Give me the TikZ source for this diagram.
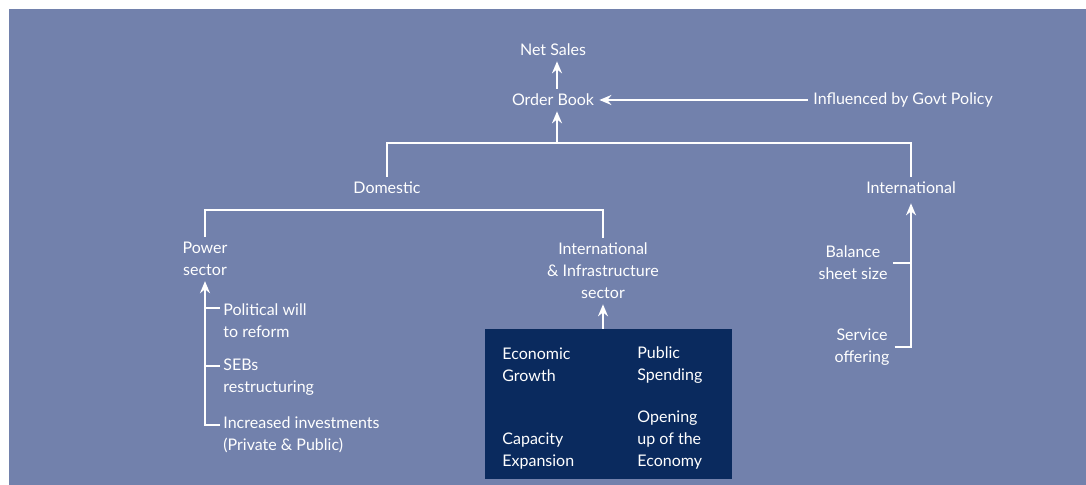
\documentclass[tikz,border=0pt]{standalone}
\usepackage{fontspec}
\setmainfont{Lato}
\usetikzlibrary{arrows.meta}
\definecolor{bgblue}{RGB}{114,129,172}
\definecolor{navy}{RGB}{10,42,94}
\tikzstyle{txt} = [text=white, font=\fontsize{8}{11}\selectfont, inner sep=2.5pt, align=center]
\tikzstyle{item} = [txt, inner sep=0pt, align=left, anchor=west]
\tikzstyle{darkbox} = [rectangle, fill=navy, minimum width=123.5pt, minimum height=75pt]
\tikzstyle{line} = [white, line width=0.8pt]
\tikzstyle{arrow} = [line, ->, >={Stealth[length=6pt,width=5pt]}]

\begin{document}
\begin{tikzpicture}[x=0.5pt, y=-0.5pt]
        \useasboundingbox (0,0) rectangle (1086,485);
        \fill[bgblue] (9,9) rectangle (1086,485);

        \node[txt] (netsales) at (553,50) {Net Sales};
        \node[txt] (orderbook) at (553,100) {Order Book};
        \node[txt, anchor=west] (govt) at (808,100) {Influenced by Govt Policy};
        \node[txt] (domestic) at (387,188) {Domestic};
        \node[txt] (intl) at (911,188) {International};

        \node[txt] (power) at (205,259) {Power\\sector};
        \node[txt] (infra) at (603,271) {International\\\& Infrastructure\\sector};
        \node[item] (pol) at (223,321) {Political will\\to reform};
        \node[item] (sebs) at (223,377) {SEBs\\restructuring};
        \node[item] (invest) at (223,435) {Increased investments\\(Private \& Public)};

        \node[darkbox] (box) at (608.5,404) {};
        \node[item] (econ) at (502,365) {Economic\\Growth};
        \node[item] (public) at (637,365) {Public\\Spending};
        \node[item] (capacity) at (502,451) {Capacity\\Expansion};
        \node[item] (opening) at (637,440.5) {Opening\\up of the\\Economy};

        \node[txt] (balance) at (853,263) {Balance\\sheet size};
        \node[txt] (service) at (862,347) {Service\\offering};

        \coordinate (tbar) at (557,143);
        \coordinate (dbar) at (0,210);
        \coordinate (c1) at (205,308);
        \coordinate (c2) at (205,366);
        \coordinate (c3) at (205,425);

        \draw[arrow] (tbar |- orderbook.north) -- (tbar |- netsales.south);
        \draw[arrow] (govt.west) -- (orderbook.east);
        \draw[arrow] (tbar) -- (tbar |- orderbook.south);
        \draw[line] (domestic.north) -- (domestic.north |- tbar) -- (intl.north |- tbar) -- (intl.north);
        \draw[line] (power.north) -- (power.north |- dbar) -- (infra.north |- dbar) -- (infra.north);

        \draw[arrow] ([xshift=-1.5pt]c3 -| invest.west) -- (c3) -- (power.south);
        \draw[line] (c1) -- ([xshift=-1.5pt]c1 -| pol.west);
        \draw[line] (c2) -- ([xshift=-1.5pt]c2 -| sebs.west);
        \draw[arrow] (box.north -| infra.south) -- (infra.south);

        \draw[arrow, shorten >=2pt] (service.east) -- (service.east -| intl.south) -- (intl.south);
        \draw[line] (balance.east) -- (balance.east -| intl.south);
\end{tikzpicture}
\end{document}
